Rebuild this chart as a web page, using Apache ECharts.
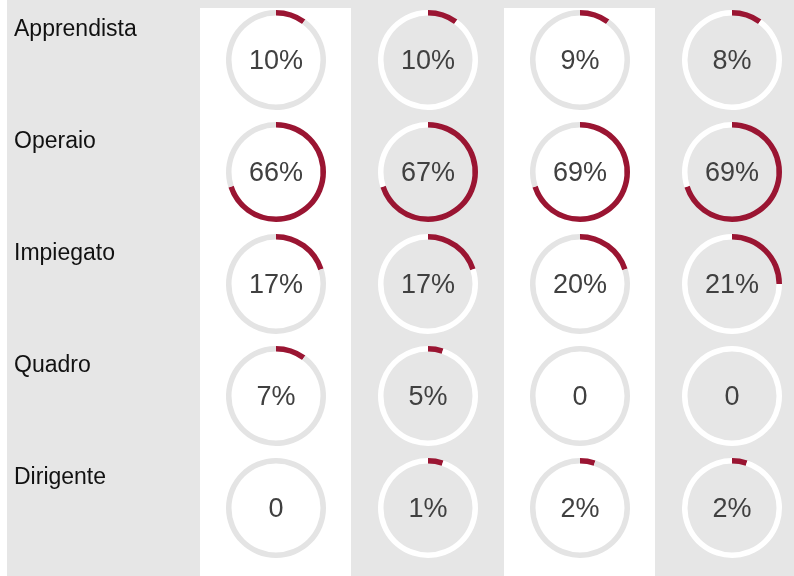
<!DOCTYPE html>
<html>
<head>
<meta charset="utf-8">
<style>
    html, body { margin: 0; padding: 0; }
    #main { width: 794px; height: 576px; }
</style>
<script src="https://cdn.jsdelivr.net/npm/echarts@6/dist/echarts.min.js"></script>
</head>
<body>
<div id="main"></div>
<script>
// categorie (righe)
var categories = ['Apprendista', 'Operaio', 'Impiegato', 'Quadro', 'Dirigente'];
// percentuali mostrate al centro, per colonna
var col1 = [10, 66, 17, 7, 0];
var col2 = [10, 67, 17, 5, 1];
var col3 = [9, 69, 20, 0, 2];
var col4 = [8, 69, 21, 0, 2];
// lunghezza dell'arco come disegnato (a scatti di 5%)
var arc1 = [10, 70, 20, 10, 0];
var arc2 = [10, 70, 20, 5, 5];
var arc3 = [10, 70, 20, 0, 5];
var arc4 = [10, 70, 25, 0, 5];

var columns = [col1, col2, col3, col4];
var arcs = [arc1, arc2, arc3, arc4];

var colX = [276, 428, 580, 732];
var rowY = [60, 172, 284, 396, 508];
var red = '#9a1532';
var font = '"Liberation Sans", Arial, Helvetica, sans-serif';

var myChart = echarts.init(document.getElementById('main'));

var series = [];
for (var c = 0; c < columns.length; c++) {
    // colonne bianche (1 e 3) hanno traccia grigia, le altre bianca
    var track = (c % 2 == 0) ? '#e4e4e4' : '#ffffff';
    for (var r = 0; r < categories.length; r++) {
        var v = columns[c][r];
        var a = arcs[c][r];
        series.push({
            type: 'pie',
            silent: true,
            animation: false,
            center: [colX[c], rowY[r]],
            radius: [44.5, 50],
            startAngle: 90,
            clockwise: true,
            labelLine: { show: false },
            data: [
                { value: a, name: categories[r], itemStyle: { color: red }, label: { show: false } },
                {
                    value: 100 - a, name: 'resto', itemStyle: { color: track },
                    label: {
                        show: true,
                        position: 'center',
                        formatter: v ? v + '%' : '0',
                        fontSize: 27,
                        fontFamily: font,
                        color: '#404040',
                        offset: [0, 2]
                    }
                }
            ]
        });
    }
}

// sfondi colonne + etichette righe
var graphics = [
    { type: 'rect', shape: { x: 0, y: 0, width: 7, height: 576 }, style: { fill: '#ffffff' }, silent: true },
    { type: 'rect', shape: { x: 200, y: 8, width: 151, height: 568 }, style: { fill: '#ffffff' }, silent: true },
    { type: 'rect', shape: { x: 504, y: 8, width: 151, height: 568 }, style: { fill: '#ffffff' }, silent: true }
];
for (var i = 0; i < categories.length; i++) {
    graphics.push({
        type: 'text',
        left: 14,
        top: rowY[i] - 42,
        silent: true,
        style: {
            text: categories[i],
            font: '23px ' + font,
            fill: '#111111'
        }
    });
}

var option = {
    backgroundColor: '#e6e6e6',
    graphic: graphics,
    series: series
};
myChart.setOption(option);
</script>
</body>
</html>
